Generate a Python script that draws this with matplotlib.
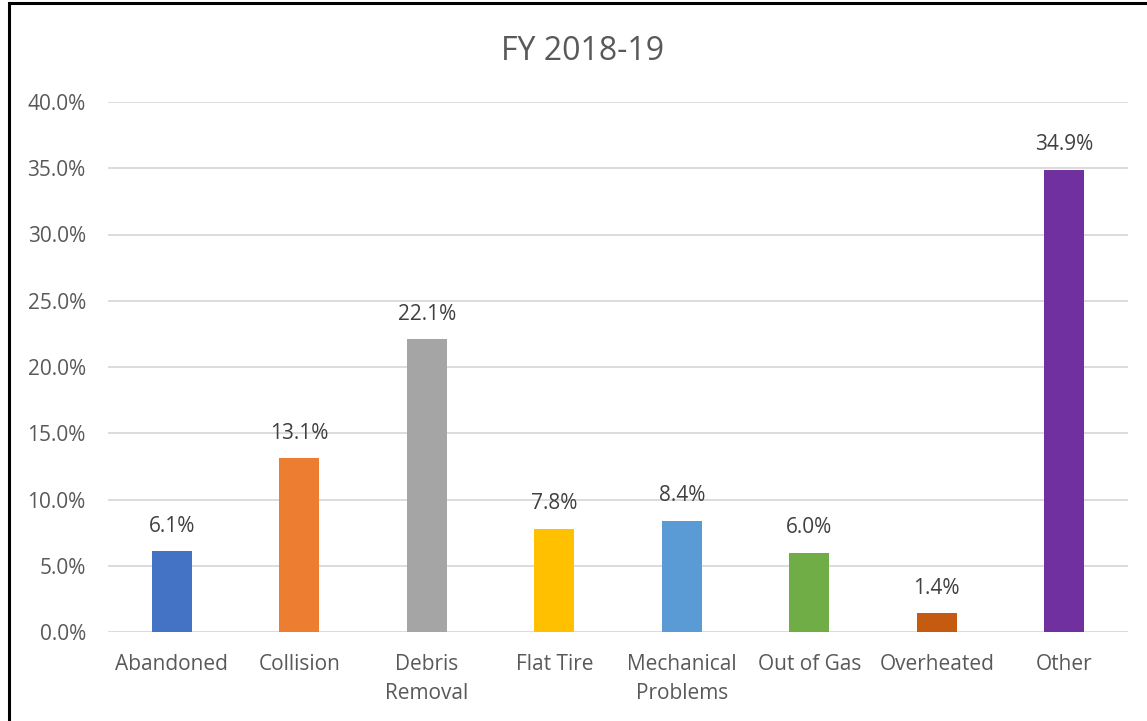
import matplotlib
matplotlib.use('Agg')
import matplotlib.pyplot as plt
from matplotlib.patches import Rectangle
from matplotlib.ticker import FuncFormatter

categories = ['Abandoned', 'Collision', 'Debris\nRemoval', 'Flat Tire',
              'Mechanical\nProblems', 'Out of Gas', 'Overheated', 'Other']
shares = [6.1, 13.1, 22.1, 7.8, 8.4, 6.0, 1.4, 34.9]
colors = ['#4472C4', '#ED7D31', '#A5A5A5', '#FFC000',
          '#5B9BD5', '#70AD47', '#C55A11', '#7030A0']

plt.rcParams['font.family'] = ['Open Sans', 'DejaVu Sans']

W, H = 1147, 721
fig = plt.figure(figsize=(W / 100, H / 100), dpi=100)
ax = fig.add_axes([108 / W, (H - 632) / H, 1020 / W, 530 / H])

x = range(len(categories))
ax.bar(x, shares, width=0.31, color=colors, zorder=3)
for xi, v in zip(x, shares):
    ax.text(xi, v + 1.1, f'{v:.1f}%', ha='center', va='bottom',
            fontsize=15, color='#404040')

ax.set_xlim(-0.5, len(categories) - 0.5)
ax.set_ylim(0, 40)
ax.set_yticks(range(0, 41, 5))
ax.yaxis.set_major_formatter(FuncFormatter(lambda v, p: f'{v:.1f}%'))
ax.set_xticks(list(x))
ax.set_xticklabels(categories, linespacing=1.5)
ax.tick_params(axis='both', length=0, labelsize=15, colors='#595959')
ax.tick_params(axis='x', pad=16)
ax.tick_params(axis='y', pad=16)
ax.grid(axis='y', color='#D9D9D9', linewidth=1.3, zorder=0)
for s in ax.spines.values():
    s.set_visible(False)

fig.text(583 / W, 1 - 51 / H, 'FY 2018-19', ha='center', va='center',
         fontsize=23, color='#595959')

# outer chart border
fig.patches.append(Rectangle((9 / W, -0.05), 1.2, 1 - 3.5 / H + 0.05,
                             transform=fig.transFigure, fill=False,
                             edgecolor='black', linewidth=2.2))

fig.savefig('out.png', dpi=100)
